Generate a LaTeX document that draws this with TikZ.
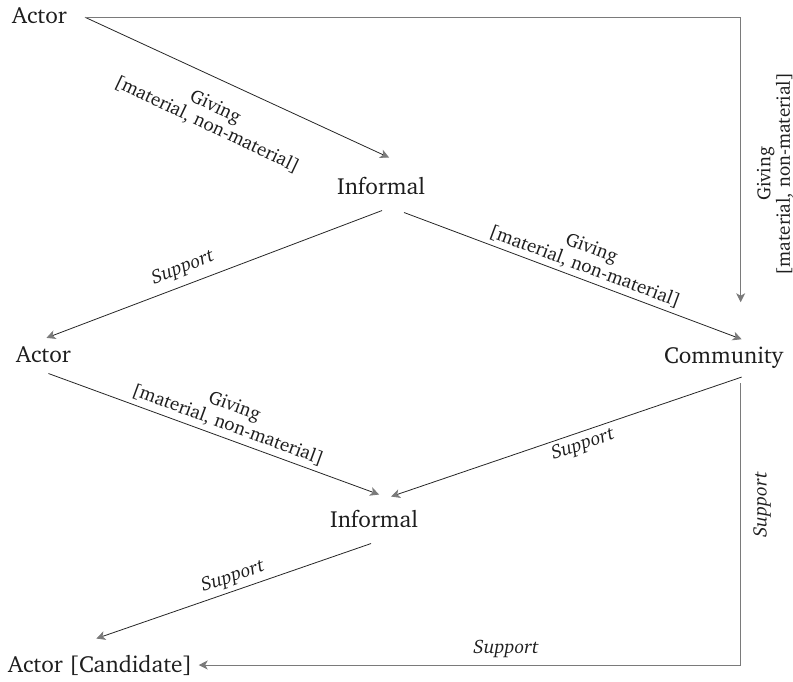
\documentclass[tikz,border=0pt]{standalone}
\usepackage[T1]{fontenc}
\usepackage{charter}
\usetikzlibrary{arrows.meta}
\definecolor{txt}{HTML}{1E1E1E}
\definecolor{ln}{HTML}{262626}
\definecolor{gln}{HTML}{7A7A7A}
\definecolor{arr}{HTML}{7A7A7A}
\begin{document}
\begin{tikzpicture}[x=1pt,y=-1pt,
  nd/.style={inner sep=0pt, anchor=base west, text=txt, font=\fontsize{23.3}{27}\selectfont},
  lab/.style={inner sep=0pt, align=center, text=txt, font=\fontsize{19}{19.5}\selectfont},
  sup/.style={inner sep=0pt, text=txt, font=\fontsize{19.5}{21}\selectfont\itshape},
  tipA/.style={-{Stealth[length=9pt,width=9pt,inset=2.5pt,color=arr]}},
  dline/.style={draw=ln, line width=0.8pt, tipA},
  gline/.style={draw=gln, line width=1pt, tipA}]
\useasboundingbox (0,0) rectangle (793,682);
% nodes
\node[nd] (a1) at (12,24) {Actor};
\node[nd] (i1) at (337,194) {Informal};
\node[nd] (a2) at (16,362) {Actor};
\node[nd] (c)  at (664,363) {Community};
\node[nd] (i2) at (330,527) {Informal};
\node[nd] (a3) at (8,672) {Actor [Candidate]};
% connectors
\draw[dline] ([shift={(18,1)}]a1.east) -- ([shift={(8,-19)}]i1.north);
\draw[gline] ([shift={(18,1)}]a1.east) -| ([shift={(17,-44)}]c.north);
\draw[dline] ([shift={(1,16)}]i1.south) -- ([shift={(3,-8)}]a2.north);
\draw[dline] ([shift={(23,18)}]i1.south) -- ([shift={(18,-7)}]c.north);
\draw[dline] ([shift={(5,11)}]a2.south) -- ([shift={(5,-15)}]i2.north);
\draw[dline] ([shift={(18,9)}]c.south) -- ([shift={(17,-13)}]i2.north);
\draw[gline] ([shift={(17,15)}]c.south) |- ([shift={(6,0)}]a3.east);
\draw[dline] ([shift={(-3,16)}]i2.south) -- ([shift={(-4,-16)}]a3.north);
% labels
\node[lab, rotate=-25.4] (l1) at (211,116) {Giving\\{}[material, non-material]};
\node[lab, rotate=90] (l2) at (775,174) {Giving\\{}[material, non-material]};
\node[sup, rotate=21] (l3) at (183,268) {Support};
\node[lab, rotate=-20.4] (l4) at (588,258) {Giving\\{}[material, non-material]};
\node[lab, rotate=-20.2] (l5) at (231,416) {Giving\\{}[material, non-material]};
\node[sup, rotate=19] (l6) at (583,445) {Support};
\node[sup, rotate=90] (l7) at (762,505) {Support};
\node[sup, rotate=18.7] (l8) at (233,577) {Support};
\node[sup] (l9) at (506,649) {Support};
\end{tikzpicture}
\end{document}
